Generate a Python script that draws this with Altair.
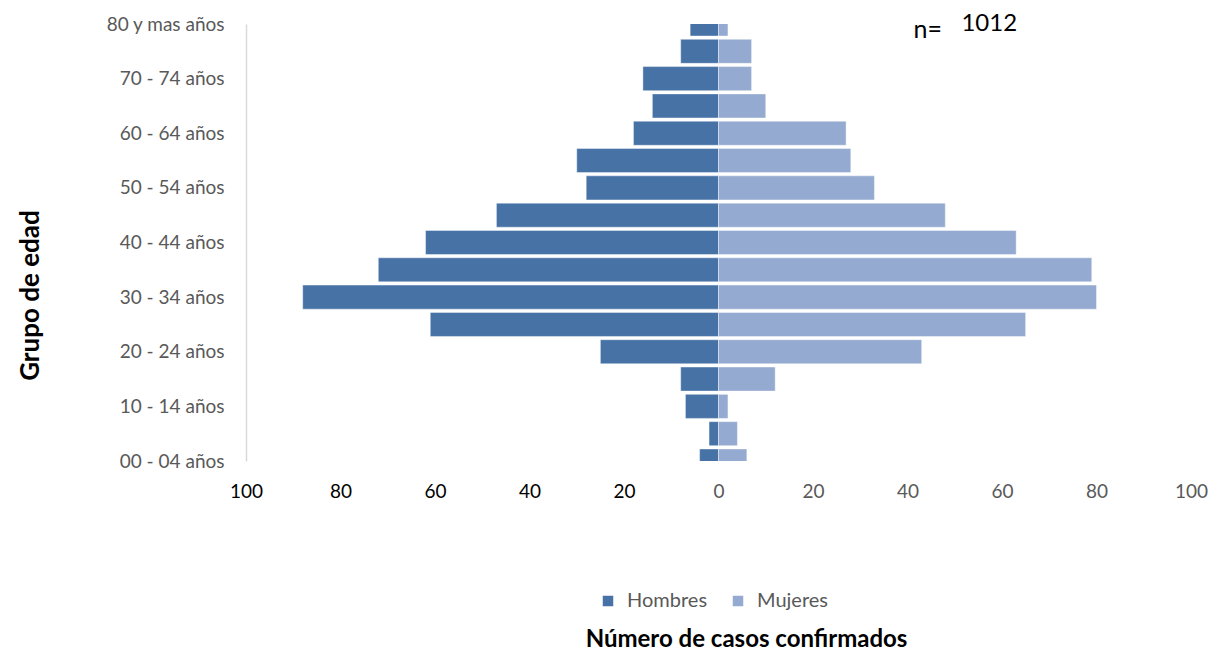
import altair as alt
import pandas as pd

grupos = ["00 - 04 años", "05 - 09 años", "10 - 14 años", "15 - 19 años", "20 - 24 años",
          "25 - 29 años", "30 - 34 años", "35 - 39 años", "40 - 44 años", "45 - 49 años",
          "50 - 54 años", "55 - 59 años", "60 - 64 años", "65 - 69 años", "70 - 74 años",
          "75 - 79 años", "80 y mas años"]
hombres = [4, 2, 7, 8, 25, 61, 88, 72, 62, 47, 28, 30, 18, 14, 16, 8, 6]
mujeres = [6, 4, 2, 12, 43, 65, 80, 79, 63, 48, 33, 28, 27, 10, 7, 7, 2]
x_ticks = [-100, -80, -60, -40, -20, 0, 20, 40, 60, 80, 100]
n_total = 1012

rows = []
for i, g in enumerate(grupos):
    rows.append({"grupo": g, "idx": i, "sexo": "Hombres", "valor": -hombres[i], "casos": hombres[i]})
    rows.append({"grupo": g, "idx": i, "sexo": "Mujeres", "valor": mujeres[i], "casos": mujeres[i]})
df = pd.DataFrame(rows)
df["lo"] = df["idx"] - 0.44
df["hi"] = df["idx"] + 0.44

FONT = "Lato"
label_arr = "[" + ",".join("'" + g + "'" for g in grupos) + "]"

x_scale = alt.Scale(domain=[-100, 100], nice=False, zero=False)
y_scale = alt.Scale(domain=[0, len(grupos) - 1], nice=False, zero=False)

bars = alt.Chart(df).mark_bar(clip=True, stroke="#ffffff", strokeWidth=0.7, strokeOpacity=0.6).encode(
    x=alt.X("valor:Q", scale=x_scale,
            axis=alt.Axis(values=x_ticks, labelExpr="abs(datum.value)", domain=False, ticks=False,
                          grid=False, labelFontSize=19, labelFont=FONT, labelPadding=21,
                          labelFlush=False, labelOverlap=False,
                          labelColor={"condition": {"test": "datum.value < 0", "value": "#000000"},
                                      "value": "#595959"},
                          title="Número de casos confirmados", titleFont=FONT, titleFontSize=24,
                          titleFontWeight="bold", titleColor="#000000",
                          titleX=500, titleY=178, titleBaseline="middle", titleAnchor="middle")),
    x2=alt.datum(0),
    y=alt.Y("lo:Q", scale=y_scale,
            axis=alt.Axis(values=list(range(0, len(grupos), 2)),
                          labelExpr=label_arr + "[datum.value]",
                          domain=True, domainColor="#d9d9d9", domainWidth=1.5,
                          ticks=False, grid=False, labelFontSize=19, labelFont=FONT,
                          labelColor="#595959", labelPadding=22, labelOverlap=False,
                          title="Grupo de edad", titleFont=FONT, titleFontSize=26,
                          titleFontWeight="bold", titleColor="#000000",
                          titleX=-216, titleY=271, titleAngle=-90, titleAnchor="middle",
                          titleBaseline="middle")),
    y2="hi:Q",
    color=alt.Color("sexo:N",
                    scale=alt.Scale(domain=["Hombres", "Mujeres"], range=["#4672A6", "#95AAD0"]),
                    legend=alt.Legend(title=None, orient="none", direction="horizontal",
                                      legendX=352, legendY=567, symbolType="square",
                                      symbolSize=110, symbolStrokeWidth=0,
                                      labelFont=FONT, labelFontSize=20, labelColor="#595959",
                                      columnPadding=20, labelOffset=9)),
)

n_df = pd.DataFrame({"n": [n_total]})
n_label = alt.Chart(n_df).mark_text(font=FONT, fontSize=25, color="#000000", align="center",
                                    baseline="middle").encode(
    x=alt.datum(44.3, scale=x_scale), y=alt.datum(15.78, scale=y_scale), text=alt.value("n="))
n_value = alt.Chart(n_df).mark_text(font=FONT, fontSize=24, color="#000000", align="center",
                                    baseline="middle").encode(
    x=alt.datum(57.3, scale=x_scale), y=alt.datum(16.0, scale=y_scale), text="n:Q")

chart = alt.layer(bars, n_label, n_value).properties(
    width=945, height=437,
    autosize=alt.AutoSizeParams(type="none"),
    padding={"left": 238, "top": 16, "right": 18, "bottom": 190},
    background="#ffffff",
).configure_view(strokeWidth=0)

chart.save("out.html", embed_options={"renderer": "svg", "actions": False})
